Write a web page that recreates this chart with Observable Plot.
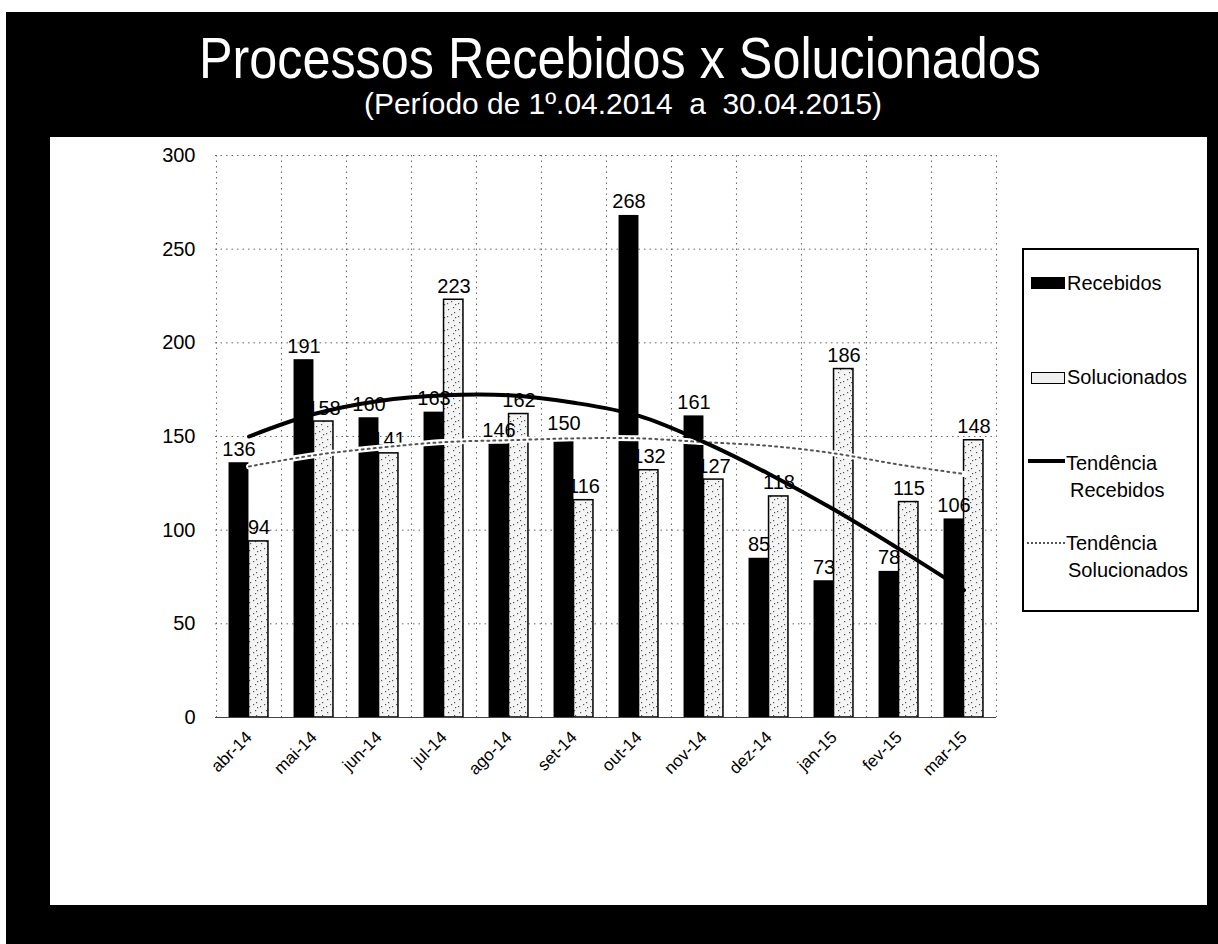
<!DOCTYPE html>
<html>
<head>
<meta charset="utf-8">
<script src="https://cdn.jsdelivr.net/npm/d3@7"></script>
<script src="https://cdn.jsdelivr.net/npm/@observablehq/plot@0.6"></script>
<style>
  html, body { margin: 0; padding: 0; }
  body { width: 1218px; height: 944px; background: #000; position: relative; overflow: hidden;
         font-family: "Liberation Sans", Arial, sans-serif; }
  #topstrip { position: absolute; left: 0; top: 0; width: 1218px; height: 12px; background: #fff; }
  #leftstrip { position: absolute; left: 0; top: 0; width: 6px; height: 944px; background: #fff; }
  .hd { position: absolute; color: #fff; white-space: pre; font-family: "Liberation Sans", Arial, sans-serif;
        transform-origin: 0 0; }
  #title { font-size: 58px; line-height: 58px; top: 29px; }
  #subtitle { font-size: 30px; line-height: 30px; top: 89px; }
  #panel { position: absolute; left: 50px; top: 137px; width: 1157px; height: 768px; background: #fff; }
  #panel svg { display: block; }
  #legend { position: absolute; left: 1022px; top: 248px; width: 173px; height: 360px;
            border: 2px solid #000; background: #fff; }
  .lt { position: absolute; font-size: 20px; line-height: 20px; color: #000; white-space: nowrap; }
  .sw { position: absolute; }
</style>
</head>
<body>
<div id="topstrip"></div>
<div id="leftstrip"></div>
<div id="title" class="hd">Processos Recebidos x Solucionados</div>
<div id="subtitle" class="hd">(Período de 1º.04.2014  a  30.04.2015)</div>
<div id="panel"></div>
<div id="legend"></div>
<script>
// ---- data ----
const months = ["abr-14","mai-14","jun-14","jul-14","ago-14","set-14","out-14","nov-14","dez-14","jan-15","fev-15","mar-15"];
const recebidos = [136, 191, 160, 163, 146, 150, 268, 161, 85, 73, 78, 106];
const solucionados = [94, 158, 141, 223, 162, 116, 132, 127, 118, 186, 115, 148];
const tendenciaRecebidos = [150, 162, 169, 172, 172, 168, 161, 147, 130, 111, 90, 68];
const tendenciaSolucionados = [134, 140, 144, 147, 148, 149, 149, 147, 145, 141, 135, 130];
const yTicks = [0, 50, 100, 150, 200, 250, 300];
const legendLabels = ["Recebidos", "Solucionados", "Tendência\nRecebidos", "Tendência\nSolucionados"];

const rows = months.map((m, i) => ({
  month: m, rec: recebidos[i], sol: solucionados[i],
  tr: tendenciaRecebidos[i], ts: tendenciaSolucionados[i]
}));

// ---- narrow-looking headings: squeeze to the reference width ----
function fitHeading(id, centerX, targetW) {
  const el = document.getElementById(id);
  const w = el.getBoundingClientRect().width;
  const k = targetW / w;
  el.style.left = (centerX - targetW / 2) + "px";
  el.style.transform = `scaleX(${k})`;
}
fitHeading("title", 620, 842);
fitHeading("subtitle", 623, 518);

// ---- layout ----
const W = 1157, H = 768, mL = 165, mR = 211, mT = 18, mB = 188;
const step = (W - mL - mR) / months.length;
const gridStyle = { stroke: "#666", strokeDasharray: "1.5,4", strokeWidth: 1 };

const chart = Plot.plot({
  width: W, height: H,
  marginLeft: mL, marginRight: mR, marginTop: mT, marginBottom: mB,
  style: { fontFamily: '"Liberation Sans", Arial, sans-serif', fontSize: "20px", color: "#000", background: "transparent" },
  x: { domain: months, padding: 0, label: null },
  y: { domain: [0, 300], label: null },
  marks: [
    Plot.ruleY(yTicks.filter(v => v > 0), gridStyle),
    Plot.ruleX(months, { dx: -step / 2, ...gridStyle }),
    Plot.ruleX(months.slice(-1), { dx: step / 2, ...gridStyle }),
    Plot.barY(rows, { x: "month", y: "rec", fill: "#000", insetLeft: step / 2 - 20, insetRight: step / 2 }),
    Plot.barY(rows, { x: "month", y: "sol", fill: "url(#speckle)", stroke: "#000", strokeWidth: 1.5,
                      insetLeft: step / 2, insetRight: step / 2 - 19.5 }),
    Plot.ruleY([0], { stroke: "#444", strokeWidth: 1.2 }),
    Plot.axisY({ ticks: yTicks, tickSize: 0, tickPadding: 20, fontSize: 20, label: null }),
    Plot.axisX({ tickSize: 0, tickRotate: -45, tickPadding: 17, fontSize: 17, label: null }),
    Plot.text(rows, { x: "month", y: "rec", text: d => String(d.rec), dx: -10, dy: -7, lineAnchor: "bottom", fill: "#000", fontSize: 20 }),
    Plot.text(rows, { x: "month", y: "sol", text: d => String(d.sol), dx: 10, dy: -7, lineAnchor: "bottom", fill: "#000", fontSize: 20 }),
    Plot.line(rows, { x: "month", y: "ts", stroke: "#fff", strokeWidth: 6, curve: "catmull-rom" }),
    Plot.line(rows, { x: "month", y: "ts", stroke: "#555", strokeWidth: 2, strokeDasharray: "2,4", curve: "catmull-rom" }),
    Plot.line(rows, { x: "month", y: "tr", stroke: "#000", strokeWidth: 4, curve: "catmull-rom" })
  ]
});

// speckled pattern for the "Solucionados" bars
const ns = "http://www.w3.org/2000/svg";
const defs = document.createElementNS(ns, "defs");
const pat = document.createElementNS(ns, "pattern");
pat.setAttribute("id", "speckle");
pat.setAttribute("patternUnits", "userSpaceOnUse");
pat.setAttribute("width", "11");
pat.setAttribute("height", "13");
const bg = document.createElementNS(ns, "rect");
bg.setAttribute("width", "11"); bg.setAttribute("height", "13"); bg.setAttribute("fill", "#f4f4f4");
pat.appendChild(bg);
[[2,3],[7,1],[5,8],[9,11],[1,10],[8,6]].forEach(([cx, cy]) => {
  const c = document.createElementNS(ns, "rect");
  c.setAttribute("x", cx); c.setAttribute("y", cy);
  c.setAttribute("width", "1.2"); c.setAttribute("height", "1.2");
  c.setAttribute("fill", "#555");
  pat.appendChild(c);
});
defs.appendChild(pat);
chart.insertBefore(defs, chart.firstChild);
document.getElementById("panel").appendChild(chart);

// ---- legend ----
const legend = document.getElementById("legend");
const ox = 1024, oy = 250; // inner origin of legend box
function addText(txt, x, baseline) {
  const s = document.createElement("div");
  s.className = "lt";
  s.textContent = txt;
  s.style.left = (x - ox) + "px";
  s.style.top = (baseline - 17 - oy) + "px";
  legend.appendChild(s);
}
function addSwatch(x, y, w, h, css) {
  const d = document.createElement("div");
  d.className = "sw";
  d.style.left = (x - ox) + "px"; d.style.top = (y - oy) + "px";
  d.style.width = w + "px"; d.style.height = h + "px";
  Object.assign(d.style, css);
  legend.appendChild(d);
}
addSwatch(1031, 277, 34, 12, { background: "#000" });
addText(legendLabels[0], 1067, 290);
addSwatch(1031, 372, 32, 10, { background: "#f0f0f0", border: "1.5px solid #000" });
addText(legendLabels[1], 1067, 384);
addSwatch(1028, 459, 37, 0, { borderTop: "4px solid #000" });
const [t1a, t1b] = legendLabels[2].split("\n");
addText(t1a, 1066, 470);
addText(t1b, 1070, 497);
addSwatch(1027, 542, 38, 0, { borderTop: "2px dotted #555" });
const [t2a, t2b] = legendLabels[3].split("\n");
addText(t2a, 1066, 550);
addText(t2b, 1068, 577);
</script>
</body>
</html>
